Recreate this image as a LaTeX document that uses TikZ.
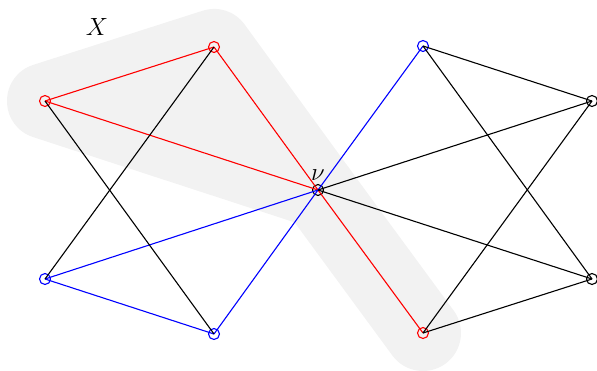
\documentclass[tikz,border=0pt]{standalone}
\usetikzlibrary{backgrounds}
\tikzset{
  vtx/.style={circle, draw, inner sep=0pt, minimum size=11pt, line width=1.1pt},
  lbl/.style={font=\fontsize{24}{28}\selectfont},
  blob/.style={draw=gray!10, fill=gray!10, line width=76pt, line cap=round, line join=round}
}
\begin{document}
\begin{tikzpicture}[x=1pt, y=-1pt, line width=1.1pt]
  \useasboundingbox (0,0) rectangle (597,370);
  % 1. vertices
  \node[vtx, red]  (xl) at (45,101) {};
  \node[vtx, red]  (xt) at (214,47) {};
  \node[vtx]       (v)  at (318,190) {};
  \node[vtx, red]  (xb) at (423,333) {};
  \node[vtx, blue] (ut) at (423,46) {};
  \node[vtx, blue] (ul) at (45,279) {};
  \node[vtx, blue] (ub) at (214,334) {};
  \node[vtx]       (wr) at (592,101) {};
  \node[vtx]       (wb) at (592,279) {};

  % 2. labels
  \node[lbl] (xlab) at (97,27) {$X$};
  \node[lbl] (vlab) at (318,175) {$\nu$};

  % 3. shaded set X
  \begin{scope}[on background layer]
    \path[blob] (xl.center) -- (xt.center) -- (v.center) -- cycle;
    \path[blob] (v.center) -- (xb.center);
  \end{scope}

  % 4. edges
  \foreach \a/\b in {xl/xt, xl/v, xt/v, v/xb}
    \draw[red] (\a.center) -- (\b.center);
  \foreach \a/\b in {ut/v, v/ul, ul/ub, ub/v}
    \draw[blue] (\a.center) -- (\b.center);
  \foreach \a/\b in {xt/ul, xl/ub, ut/wr, ut/wb, wr/v, wr/xb, v/wb, wb/xb}
    \draw (\a.center) -- (\b.center);
\end{tikzpicture}
\end{document}
